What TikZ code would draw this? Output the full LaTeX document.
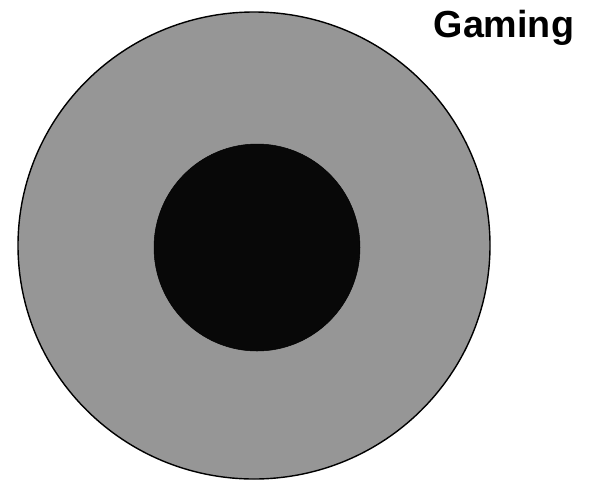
\documentclass[tikz,border=0pt]{standalone}
\usepackage{fontspec}
\setmainfont{Liberation Sans}
\begin{document}
\begin{tikzpicture}[x=1pt,y=-1pt,
  outerdisc/.style={draw=black,line width=1.4pt,fill=outergray},
  innerdisc/.style={draw=black,line width=0.5pt,fill=innerblack},
  titletext/.style={font=\fontsize{37.7}{40}\selectfont\bfseries,inner sep=0pt,anchor=base west}]
\definecolor{outergray}{RGB}{150,150,150}
\definecolor{innerblack}{RGB}{8,8,8}
\useasboundingbox (0,0) rectangle (591,480);
\draw[outerdisc] (254,245.5) ellipse [x radius=236, y radius=233.5];
\draw[innerdisc] (257,247.5) ellipse [x radius=103, y radius=103.5];
\node[titletext] (title) at (433.5,37) {Gaming};
\end{tikzpicture}
\end{document}
